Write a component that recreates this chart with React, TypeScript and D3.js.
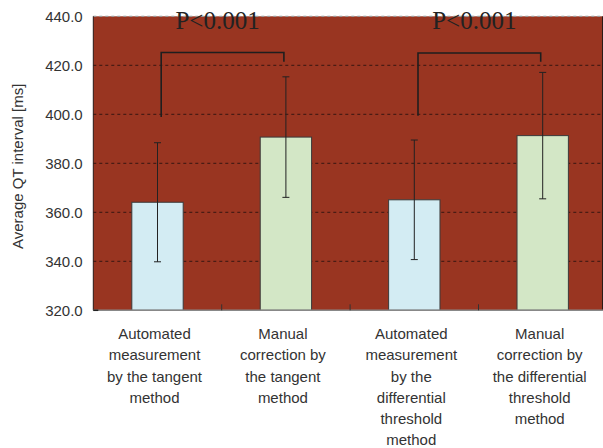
import React from "react";
import * as d3 from "d3";

const categories = [
  ["Automated", "measurement", "by the tangent", "method"],
  ["Manual", "correction by", "the tangent", "method"],
  ["Automated", "measurement", "by the", "differential", "threshold", "method"],
  ["Manual", "correction by", "the differential", "threshold", "method"],
];
const means = [364.1, 390.7, 365.1, 391.3];
const sds = [24.3, 24.6, 24.4, 25.8];
const barColors = ["#d3ecf3", "#d3e7c6", "#d3ecf3", "#d3e7c6"];
const yTicks = [320, 340, 360, 380, 400, 420, 440];
// [from bar, to bar, left leg bottom, top, right leg bottom]
const brackets = [
  { from: 0, to: 1, left: 398.9, top: 425.2, right: 421.5, label: "P<0.001" },
  { from: 2, to: 3, left: 399.4, top: 425.0, right: 421.5, label: "P<0.001" },
];

const W = 603;
const H = 448;
const plotLeft = 93.3;
const plotRight = 602.5;
const plotTop = 16.3;
const plotBottom = 310.3;

export default function App() {
  const x = d3
    .scaleBand<number>()
    .domain(d3.range(categories.length))
    .range([plotLeft, 606.9])
    .padding(0);
  const y = d3.scaleLinear().domain([320, 440]).range([plotBottom, plotTop]);
  const bw = x.bandwidth() * 0.4;
  const cx = (i: number) => (x(i) as number) + x.bandwidth() / 2;
  const font = "'Liberation Sans', Arial, sans-serif";

  return (
    <svg
      width={W}
      height={H}
      style={{ position: "absolute", left: 0, top: 0, background: "#fff" }}
    >
      <rect
        x={plotLeft}
        y={plotTop}
        width={plotRight - plotLeft}
        height={plotBottom - plotTop}
        fill="#993521"
      />
      {/* gridlines */}
      {yTicks.slice(1).map((t) => (
        <line
          key={t}
          x1={plotLeft}
          x2={plotRight}
          y1={y(t)}
          y2={y(t)}
          stroke={t === 440 ? "#999" : "#4a1c14"}
          strokeWidth={1.2}
          strokeDasharray="3,3"
        />
      ))}
      <line x1={plotLeft} x2={plotLeft} y1={plotTop} y2={plotBottom} stroke="#2a1a16" strokeWidth={1} />
      <line x1={plotRight} x2={plotRight} y1={plotTop} y2={plotBottom} stroke="#2a1a16" strokeWidth={1} />
      {/* bars */}
      {means.map((m, i) => (
        <rect
          key={i}
          x={cx(i) - bw / 2}
          y={y(m)}
          width={bw}
          height={plotBottom - y(m)}
          fill={barColors[i]}
          stroke="#3a3a3a"
          strokeWidth={1}
        />
      ))}
      {/* error bars */}
      {means.map((m, i) => (
        <g key={i} stroke="#222" strokeWidth={1}>
          <line x1={cx(i)} x2={cx(i)} y1={y(m + sds[i])} y2={y(m - sds[i])} />
          <line x1={cx(i) - 3.5} x2={cx(i) + 3.5} y1={y(m + sds[i])} y2={y(m + sds[i])} />
          <line x1={cx(i) - 3.5} x2={cx(i) + 3.5} y1={y(m - sds[i])} y2={y(m - sds[i])} />
        </g>
      ))}
      {/* x axis */}
      <line x1={plotLeft} x2={W} y1={plotBottom} y2={plotBottom} stroke="#888" strokeWidth={1.5} />
      <line x1={plotLeft} x2={plotLeft + 5} y1={plotBottom} y2={plotBottom} stroke="#222" strokeWidth={1.5} />
      {d3.range(1, categories.length).map((i) => (
        <line
          key={i}
          x1={x(i) as number}
          x2={x(i) as number}
          y1={plotBottom}
          y2={plotBottom - 6}
          stroke="#333"
          strokeWidth={1}
        />
      ))}
      {/* brackets */}
      {brackets.map((b, k) => {
        const x1 = cx(b.from) + 3.7;
        const x2 = cx(b.to) - 2;
        return (
          <g key={k}>
            <path
              d={`M${x1},${y(b.left)}V${y(b.top)}H${x2}V${y(b.right)}`}
              fill="none"
              stroke="#1e1e1e"
              strokeWidth={1.6}
            />
            <text
              x={(x1 + x2) / 2 - 5}
              y={29.3}
              textAnchor="middle"
              fontFamily="'Liberation Serif', 'Times New Roman', serif"
              fontSize={25}
              fill="#222"
            >
              {b.label}
            </text>
          </g>
        );
      })}
      {/* y tick labels */}
      {yTicks.map((t) => (
        <text
          key={t}
          x={82.7}
          y={y(t)}
          dy="0.36em"
          textAnchor="end"
          fontFamily={font}
          fontSize={15}
          fill="#333"
        >
          {t.toFixed(1)}
        </text>
      ))}
      <text
        transform={`translate(23.3,${(plotTop + plotBottom) / 2 + 3}) rotate(-90)`}
        textAnchor="middle"
        fontFamily={font}
        fontSize={15}
        fill="#333"
      >
        Average QT interval [ms]
      </text>
      {/* category labels */}
      {categories.map((lines, i) => (
        <text
          key={i}
          textAnchor="middle"
          fontFamily={font}
          fontSize={15}
          fill="#333"
        >
          {lines.map((l, j) => (
            <tspan key={j} x={cx(i) - 3} y={339.2 + j * 21.2}>
              {l}
            </tspan>
          ))}
        </text>
      ))}
    </svg>
  );
}
